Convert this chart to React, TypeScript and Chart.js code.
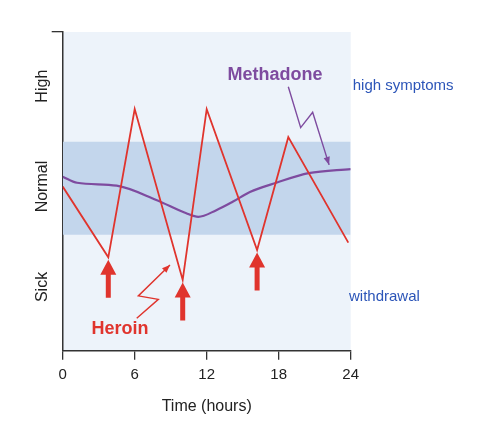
import React, { useEffect, useRef } from "react";
import { Chart, registerables } from "chart.js";

Chart.register(...registerables);

// ---------- data ----------
const hourTicks = [0, 6, 12, 18, 24];
const levelTicks = [20, 51.5, 83, 100];
const levelLabels = ["Sick", "Normal", "High", ""];

const heroinHours = [0, 3.8, 6, 10, 12, 16.2, 18.8, 23.8];
const heroinLevels = [51.5, 29.3, 75.8, 22.2, 75.8, 31.6, 67.0, 33.9];

const methadoneHours = [0, 1.2, 4.5, 7.8, 10.3, 11.3, 12.8, 14.2, 15.6, 17.8, 20.5, 24];
const methadoneLevels = [54.6, 52.7, 51.8, 47.3, 43.1, 42.0, 44.1, 46.8, 49.8, 52.7, 55.7, 57.0];

const normalBandLow = 36.4;
const normalBandHigh = 65.6;
const bandHours = [0, 24];

const doseIndices = [1, 3, 5]; // heroin doses at the troughs

// ---------- styles ----------
const RED = "#e0342d";
const PURPLE = "#7e4b9f";
const BLUE = "#2c55b8";
const AXIS = "#333333";
const TEXT = "#222222";
const BG = "#edf3fa";
const BAND = "#c3d6ec";
const FONT = "'Liberation Sans', Arial, Helvetica, sans-serif";

// annotation placements (in hours / level units)
const textNotes = [
  { text: "Methadone", hour: 17.7, level: 86.5, color: PURPLE, bold: true, size: 18, align: "center" },
  { text: "Heroin", hour: 4.78, level: 6.8, color: RED, bold: true, size: 18, align: "center" },
  { text: "high symptoms", hour: 24.17, level: 83.2, color: BLUE, bold: false, size: 15, align: "left" },
  { text: "withdrawal", hour: 23.86, level: 16.8, color: BLUE, bold: false, size: 15, align: "left" },
];
const zigzags = [
  { color: RED, pts: [[6.17, 10.2], [7.97, 16.1], [6.3, 17.2], [8.94, 26.9]] },
  { color: PURPLE, pts: [[18.8, 82.8], [19.83, 70.0], [20.83, 74.8], [22.2, 58.3]] },
];

const annotationPlugin = {
  id: "annotations",
  beforeDraw(chart: any) {
    const { ctx, chartArea: a } = chart;
    ctx.save();
    ctx.fillStyle = BG;
    ctx.fillRect(a.left, a.top, a.right - a.left, a.bottom - a.top);
    ctx.restore();
  },
  afterDraw(chart: any) {
    const { ctx } = chart;
    const xs = chart.scales.x;
    const ys = chart.scales.y;
    ctx.save();

    // rotated y labels
    ctx.fillStyle = TEXT;
    ctx.font = `16px ${FONT}`;
    ctx.textAlign = "center";
    ctx.textBaseline = "middle";
    levelTicks.forEach((v, i) => {
      if (!levelLabels[i]) return;
      const py = ys.getPixelForValue(v);
      ctx.save();
      ctx.translate(43, py);
      ctx.rotate(-Math.PI / 2);
      ctx.fillText(levelLabels[i], 0, 0);
      ctx.restore();
    });

    // dose arrows
    ctx.fillStyle = RED;
    doseIndices.forEach((idx) => {
      const px = xs.getPixelForValue(heroinHours[idx]);
      const tip = ys.getPixelForValue(heroinLevels[idx]) + 2.5;
      const headH = 15, headW = 16, shaftW = 5, len = 38;
      ctx.beginPath();
      ctx.moveTo(px, tip);
      ctx.lineTo(px + headW / 2, tip + headH);
      ctx.lineTo(px + shaftW / 2, tip + headH);
      ctx.lineTo(px + shaftW / 2, tip + len);
      ctx.lineTo(px - shaftW / 2, tip + len);
      ctx.lineTo(px - shaftW / 2, tip + headH);
      ctx.lineTo(px - headW / 2, tip + headH);
      ctx.closePath();
      ctx.fill();
    });

    // zig-zag pointers
    zigzags.forEach((z) => {
      const p = z.pts.map(([h, l]) => [xs.getPixelForValue(h), ys.getPixelForValue(l)]);
      ctx.strokeStyle = z.color;
      ctx.fillStyle = z.color;
      ctx.lineWidth = 1.4;
      ctx.beginPath();
      p.forEach(([x, y], i) => (i ? ctx.lineTo(x, y) : ctx.moveTo(x, y)));
      ctx.stroke();
      const [x1, y1] = p[p.length - 2];
      const [x2, y2] = p[p.length - 1];
      const ang = Math.atan2(y2 - y1, x2 - x1);
      const L = 8, W = 3.2;
      ctx.beginPath();
      ctx.moveTo(x2, y2);
      ctx.lineTo(x2 - L * Math.cos(ang) + W * Math.sin(ang), y2 - L * Math.sin(ang) - W * Math.cos(ang));
      ctx.lineTo(x2 - L * Math.cos(ang) - W * Math.sin(ang), y2 - L * Math.sin(ang) + W * Math.cos(ang));
      ctx.closePath();
      ctx.fill();
    });

    // text notes
    ctx.textBaseline = "middle";
    textNotes.forEach((t) => {
      ctx.fillStyle = t.color;
      ctx.font = `${t.bold ? "bold " : ""}${t.size}px ${FONT}`;
      ctx.textAlign = t.align as CanvasTextAlign;
      ctx.fillText(t.text, xs.getPixelForValue(t.hour), ys.getPixelForValue(t.level));
    });

    ctx.restore();
  },
};

export default function App() {
  const ref = useRef<HTMLCanvasElement | null>(null);

  useEffect(() => {
    if (!ref.current) return;
    Chart.defaults.font.family = FONT;
    const chart = new Chart(ref.current, {
      type: "line",
      data: {
        datasets: [
          {
            label: "Heroin",
            data: heroinHours.map((h, i) => ({ x: h, y: heroinLevels[i] })),
            borderColor: RED,
            borderWidth: 1.8,
            pointRadius: 0,
            tension: 0,
            fill: false,
          },
          {
            label: "Methadone",
            data: methadoneHours.map((h, i) => ({ x: h, y: methadoneLevels[i] })),
            borderColor: PURPLE,
            borderWidth: 2.2,
            pointRadius: 0,
            cubicInterpolationMode: "monotone",
            fill: false,
          },
          {
            label: "Normal range",
            data: bandHours.map((h) => ({ x: h, y: normalBandHigh })),
            borderWidth: 0,
            borderColor: "rgba(0,0,0,0)",
            backgroundColor: BAND,
            pointRadius: 0,
            fill: { value: normalBandLow },
          },
        ],
      },
      options: {
        animation: false,
        responsive: false,
        devicePixelRatio: 1,
        layout: { padding: { left: 0, right: 149.3, top: 32, bottom: 0 } },
        plugins: { legend: { display: false }, tooltip: { enabled: false } },
        scales: {
          x: {
            type: "linear",
            min: 0,
            max: 24,
            afterBuildTicks: (s: any) => {
              s.ticks = hourTicks.map((v) => ({ value: v }));
            },
            afterFit: (s: any) => {
              s.height = 422 - 350.7;
            },
            grid: { drawOnChartArea: false, drawTicks: true, tickLength: 9, color: AXIS, lineWidth: 1.3 },
            border: { display: true, color: AXIS, width: 1.5 },
            ticks: { color: TEXT, font: { size: 15 }, padding: 6, maxRotation: 0, autoSkip: false },
            title: {
              display: true,
              text: "Time (hours)",
              color: TEXT,
              font: { size: 16 },
              padding: { top: 0, bottom: 6 },
            },
          },
          y: {
            type: "linear",
            min: 0,
            max: 100,
            afterBuildTicks: (s: any) => {
              s.ticks = levelTicks.map((v) => ({ value: v }));
            },
            afterFit: (s: any) => {
              s.width = 62.7;
            },
            ticks: { display: false },
            grid: {
              drawOnChartArea: false,
              drawTicks: true,
              tickLength: 11,
              lineWidth: 1.3,
              color: (c: any) => (c.tick && c.tick.value === 100 ? AXIS : "rgba(0,0,0,0)"),
            },
            border: { display: true, color: AXIS, width: 1.5 },
          },
        },
      },
      plugins: [annotationPlugin],
    } as any);
    return () => chart.destroy();
  }, []);

  return (
    <div style={{ position: "fixed", left: 0, top: 0, width: 500, height: 422, background: "#fff" }}>
      <canvas ref={ref} width={500} height={422} style={{ display: "block" }} />
    </div>
  );
}
